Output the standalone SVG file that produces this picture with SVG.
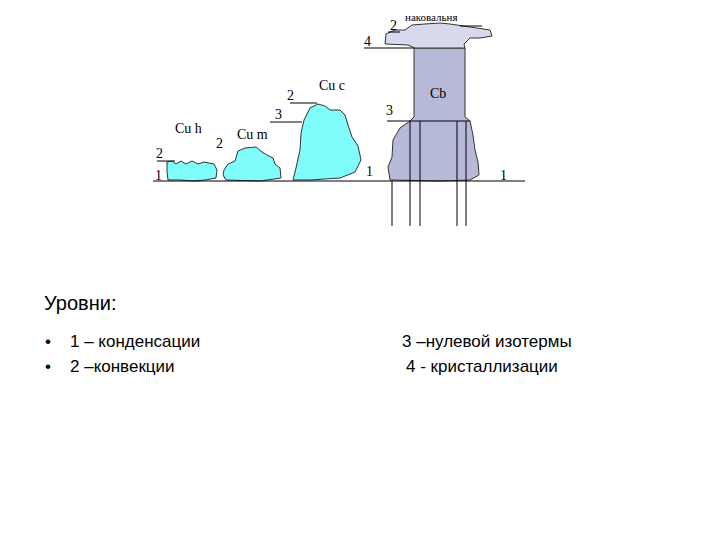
<svg xmlns="http://www.w3.org/2000/svg" width="720" height="540" viewBox="0 0 720 540">
<style>
.c{fill:#7ffcfc;stroke:#333;stroke-width:1}
.b{fill:#b7b9d9;stroke:#333;stroke-width:1}
.l{stroke:#000;stroke-width:1;fill:none}
.s{font-family:"Liberation Serif",serif;font-size:14px;fill:#000}
.t{font-family:"Liberation Sans",sans-serif;font-size:17px;fill:#000}
</style>
<rect width="720" height="540" fill="#fff"/>
<g id="clouds">
<path class="c" d="M167,162 L172,161 176,164 181,161 186,164 192,161 198,164 204,162 214,164 217,170 216,178 205,180 194,181 180,180 168,180 167,172Z"/>
<path class="c" d="M224,170 L228,164 235,161 238,151 245,148 256,147 262,152 267,155 273,158 275,164 280,168 281,178 260,181 226,180 223,175Z"/>
<path class="c" d="M304,120 L310,108 318,104 325,106 330,110 340,110 345,115 348,125 352,137 358,146 361,160 355,172 340,178 310,180 293,180 296,168 300,150 301,133Z"/>
<path class="b" d="M410,121 L414,117 414,48 465,48 465,117 470,121 473,135 475,150 478,162 479,175 470,180 440,181 390,180 388,167 392,157 393,140 400,128Z"/>
<path class="b" d="M415,48 L408,45 385,44 386,34 395,30 405,30 412,25 425,24 440,23 450,24 470,27 490,30 492,36 480,38 470,38 464,44 465,48Z" style="fill:#d8d9ec"/>
</g>
<g id="connectors">
<line class="l" x1="153" y1="181" x2="525" y2="181"/>
<line class="l" x1="392" y1="181" x2="392" y2="226"/>
<line class="l" x1="410" y1="121" x2="410" y2="226"/>
<line class="l" x1="420" y1="121" x2="420" y2="226"/>
<line class="l" x1="457" y1="121" x2="457" y2="226"/>
<line class="l" x1="466" y1="121" x2="466" y2="226"/>
<line class="l" x1="157" y1="161" x2="175" y2="161"/>
<line class="l" x1="290" y1="103" x2="317" y2="103"/>
<line class="l" x1="270" y1="122" x2="302" y2="122"/>
<line class="l" x1="387" y1="121" x2="470" y2="121"/>
<line class="l" x1="364" y1="48" x2="414" y2="48"/>
<line class="l" x1="388" y1="32" x2="400" y2="32"/>
<line class="l" x1="460" y1="26" x2="482" y2="26"/>
</g>
<g id="labels">
<text class="s" x="156" y="158">2</text>
<text class="s" x="155" y="180">1</text>
<text class="s" x="175" y="133">Cu h</text>
<text class="s" x="216" y="148">2</text>
<text class="s" x="237" y="139">Cu m</text>
<text class="s" x="287" y="100">2</text>
<text class="s" x="275" y="119">3</text>
<text class="s" x="319" y="90">Cu c</text>
<text class="s" x="366" y="176">1</text>
<text class="s" x="430" y="98">Cb</text>
<text class="s" x="386" y="115">3</text>
<text class="s" x="500" y="180">1</text>
<text class="s" x="364" y="46">4</text>
<text class="s" x="390" y="30">2</text>
<text class="s" x="405" y="21" style="font-size:11px">наковальня</text>
</g>
<g id="legend">
<text class="t" x="44" y="310" style="font-size:20px">Уровни:</text>
<text class="t" x="45" y="347">•</text>
<text class="t" x="70" y="347">1 – конденсации</text>
<text class="t" x="45" y="372">•</text>
<text class="t" x="70" y="372">2 –конвекции</text>
<text class="t" x="402" y="347">3 –нулевой изотермы</text>
<text class="t" x="406" y="372">4 - кристаллизации</text>
</g>
</svg>
